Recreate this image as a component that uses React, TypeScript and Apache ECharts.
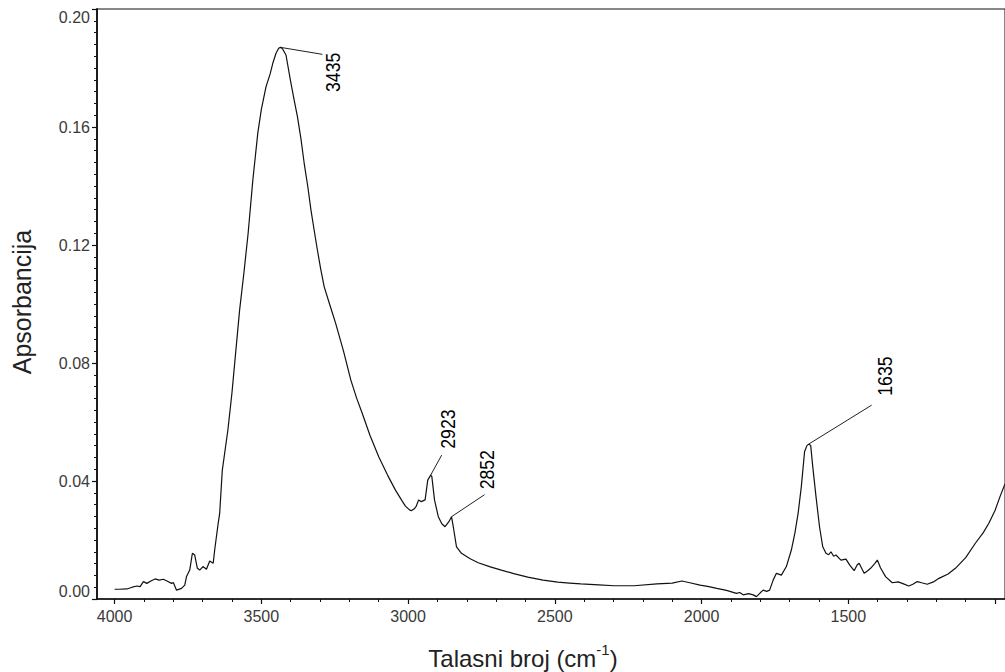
import React, { useEffect, useRef } from 'react';
import * as echarts from 'echarts';

// Spectrum (wavenumber cm-1, absorbance)
const wavenumbers = [
  4000, 3985, 3958, 3940, 3924, 3913, 3902, 3890, 3875, 3862, 3848, 3834, 3820, 3806, 3800, 3789,
  3772, 3761, 3755, 3744, 3735, 3727, 3718, 3710, 3699, 3687, 3676, 3664, 3659, 3647, 3642, 3633,
  3625, 3614, 3600, 3588, 3574, 3560, 3545, 3529, 3512, 3500, 3484, 3470, 3461, 3450, 3441, 3435,
  3428, 3416, 3401, 3388, 3377, 3365, 3354, 3342, 3331, 3320, 3309, 3298, 3286, 3266, 3247, 3220,
  3195, 3175, 3156, 3130, 3100, 3070, 3043, 3020, 3009, 2995, 2989, 2980, 2973, 2964, 2955, 2942,
  2933, 2923, 2919, 2910, 2897, 2885, 2874, 2861, 2852, 2846, 2835, 2818, 2790, 2761, 2720, 2682,
  2640, 2592, 2540, 2490, 2450, 2411, 2350, 2298, 2230, 2152, 2100, 2067, 2040, 2005, 1975, 1948,
  1915, 1881, 1870, 1858, 1840, 1824, 1813, 1800, 1790, 1778, 1768, 1756, 1745, 1728, 1711, 1694,
  1682, 1671, 1660, 1649, 1641, 1635, 1628, 1621, 1610, 1598, 1587, 1576, 1567, 1559, 1550, 1542,
  1525, 1508, 1495, 1480, 1470, 1463, 1446, 1435, 1424, 1410, 1401, 1390, 1373, 1350, 1330, 1316,
  1294, 1280, 1265, 1250, 1231, 1210, 1191, 1160, 1135, 1100, 1067, 1040, 1021, 1000, 983, 966,
];
const absorbance = [
  0.0033, 0.0033, 0.0034, 0.0040, 0.0044, 0.0042, 0.0059, 0.0053, 0.0062, 0.0068, 0.0064, 0.0067, 0.0060, 0.0053, 0.0056, 0.0030,
  0.0036, 0.0047, 0.0076, 0.0098, 0.0155, 0.0149, 0.0104, 0.0098, 0.0110, 0.0101, 0.0129, 0.0121, 0.0166, 0.0257, 0.0290, 0.0437,
  0.0494, 0.0573, 0.0700, 0.0830, 0.0980, 0.1100, 0.1240, 0.1420, 0.1580, 0.1660, 0.1737, 0.1780, 0.1816, 0.1850, 0.1867, 0.1870,
  0.1865, 0.1844, 0.1759, 0.1690, 0.1635, 0.1560, 0.1477, 0.1400, 0.1319, 0.1250, 0.1183, 0.1120, 0.1059, 0.0995, 0.0935, 0.0840,
  0.0742, 0.0680, 0.0629, 0.0555, 0.0482, 0.0420, 0.0369, 0.0332, 0.0315, 0.0302, 0.0299, 0.0305, 0.0313, 0.0336, 0.0330, 0.0336,
  0.0403, 0.0420, 0.0415, 0.0336, 0.0279, 0.0255, 0.0245, 0.0262, 0.0279, 0.0245, 0.0177, 0.0155, 0.0137, 0.0123, 0.0109, 0.0098,
  0.0086, 0.0074, 0.0064, 0.0057, 0.0054, 0.0051, 0.0048, 0.0045, 0.0045, 0.0051, 0.0054, 0.0061, 0.0055, 0.0047, 0.0042, 0.0036,
  0.0029, 0.0019, 0.0022, 0.0014, 0.0018, 0.0014, 0.0008, 0.0021, 0.0030, 0.0026, 0.0030, 0.0064, 0.0087, 0.0081, 0.0110, 0.0166,
  0.0223, 0.0290, 0.0381, 0.0499, 0.0520, 0.0525, 0.0520, 0.0448, 0.0347, 0.0245, 0.0177, 0.0155, 0.0150, 0.0160, 0.0145, 0.0149,
  0.0132, 0.0135, 0.0115, 0.0096, 0.0115, 0.0121, 0.0087, 0.0095, 0.0104, 0.0120, 0.0132, 0.0105, 0.0076, 0.0055, 0.0058, 0.0053,
  0.0044, 0.0050, 0.0059, 0.0055, 0.0050, 0.0058, 0.0070, 0.0085, 0.0104, 0.0140, 0.0189, 0.0225, 0.0257, 0.0300, 0.0347, 0.0390,
];

const xMajorTicks = [4000, 3500, 3000, 2500, 2000, 1500, 1000];
const xTickLabels = [4000, 3500, 3000, 2500, 2000, 1500];
const xMinorTicks = [4000, 3900, 3800, 3700, 3600, 3500, 3400, 3300, 3200, 3100, 3000, 2900, 2800, 2700, 2600, 2500, 2400, 2300, 2200, 2100, 2000, 1900, 1800, 1700, 1600, 1500, 1400, 1300, 1200, 1100, 1000];
const yMajorTicks = [0, 0.04, 0.08, 0.12, 0.16, 0.2];
const yMinorTicks = [0, 0.004, 0.008, 0.012, 0.016, 0.02, 0.024, 0.028, 0.032, 0.036, 0.04, 0.044, 0.048, 0.052, 0.056, 0.06, 0.064, 0.068, 0.072, 0.076, 0.08, 0.084, 0.088, 0.092, 0.096, 0.1, 0.104, 0.108, 0.112, 0.116, 0.12, 0.124, 0.128, 0.132, 0.136, 0.14, 0.144, 0.148, 0.152, 0.156, 0.16, 0.164, 0.168, 0.172, 0.176, 0.18, 0.184, 0.188, 0.192, 0.196, 0.2];
const peakLabels = [3435, 2923, 2852, 1635];

const xAxisTitle = 'Talasni broj (cm';
const xAxisTitleSup = '-1';
const yAxisTitle = 'Apsorbancija';

// Pixel offsets of leader-line end and label centre relative to each peak
const annotationLayout: Record<number, { lx: number; ly: number; tx: number; ty: number }> = {
  3435: { lx: 42, ly: 7, tx: 53, ty: 25 },
  2923: { lx: 11, ly: -20, tx: 17, ty: -46 },
  2852: { lx: 33, ly: -22, tx: 36, ty: -47 },
  1635: { lx: 63, ly: -39, tx: 76, ty: -68 },
};

const FONT = "'Liberation Sans', Arial, Helvetica, sans-serif";

export default function App() {
  const ref = useRef<HTMLDivElement>(null);

  useEffect(() => {
    if (!ref.current) return;
    const chart = echarts.init(ref.current, undefined, { renderer: 'svg' });
    const data = wavenumbers.map((w, i) => [w, absorbance[i]]);
    const xMin = 966;
    const xMax = 4060;

    chart.setOption({
      animation: false,
      backgroundColor: '#fff',
      grid: {
        left: 97,
        top: 9,
        right: -5,
        bottom: 73,
        show: true,
        borderColor: '#111',
        borderWidth: 1,
        backgroundColor: 'transparent',
      },
      xAxis: [
        {
          type: 'value',
          inverse: true,
          min: xMin,
          max: xMax,
          position: 'bottom',
          axisLine: { show: true, onZero: false, lineStyle: { color: '#111', width: 1.5 } },
          axisTick: { show: true, customValues: xMajorTicks, length: 5, lineStyle: { color: '#111', width: 1.2 } },
          axisLabel: {
            show: true,
            customValues: xTickLabels,
            fontSize: 16,
            fontFamily: FONT,
            color: '#3a3a3a',
            margin: 9,
            formatter: (v: number) => String(v),
          },
          splitLine: { show: false },
        },
        {
          type: 'value',
          inverse: true,
          min: xMin,
          max: xMax,
          position: 'bottom',
          axisLine: { show: false, onZero: false },
          axisTick: { show: true, customValues: xMinorTicks, length: 3, lineStyle: { color: '#111', width: 1 } },
          axisLabel: { show: false },
          splitLine: { show: false },
        },
      ],
      yAxis: [
        {
          type: 'value',
          min: 0,
          max: 0.2,
          position: 'left',
          axisLine: { show: true, onZero: false, lineStyle: { color: '#111', width: 1.8 } },
          axisTick: { show: true, customValues: yMajorTicks, length: 5, lineStyle: { color: '#111', width: 1.2 } },
          axisLabel: {
            show: true,
            customValues: yMajorTicks,
            fontSize: 16,
            fontFamily: FONT,
            color: '#3a3a3a',
            margin: 7,
            verticalAlignMinLabel: 'bottom',
            verticalAlignMaxLabel: 'top',
            formatter: (v: number) => v.toFixed(2),
          },
          splitLine: { show: false },
        },
        {
          type: 'value',
          min: 0,
          max: 0.2,
          position: 'left',
          axisLine: { show: false, onZero: false },
          axisTick: { show: true, customValues: yMinorTicks, length: 3, lineStyle: { color: '#111', width: 1 } },
          axisLabel: { show: false },
          splitLine: { show: false },
        },
      ],
      series: [
        {
          type: 'line',
          xAxisIndex: 0,
          yAxisIndex: 0,
          data,
          showSymbol: false,
          symbol: 'none',
          smooth: false,
          clip: true,
          lineStyle: { color: '#111', width: 1.2 },
          silent: true,
        },
      ],
    });

    const nearest = (wn: number) => {
      let best = 0;
      for (let i = 1; i < wavenumbers.length; i++) {
        if (Math.abs(wavenumbers[i] - wn) < Math.abs(wavenumbers[best] - wn)) best = i;
      }
      return absorbance[best];
    };

    const graphics: any[] = [];
    peakLabels.forEach((wn) => {
      const p = chart.convertToPixel({ xAxisIndex: 0, yAxisIndex: 0 }, [wn, nearest(wn)]) as number[];
      const L = annotationLayout[wn];
      graphics.push({
        type: 'line',
        shape: { x1: p[0], y1: p[1], x2: p[0] + L.lx, y2: p[1] + L.ly },
        style: { stroke: '#222', lineWidth: 1 },
        silent: true,
      });
      graphics.push({
        type: 'text',
        x: p[0] + L.tx,
        y: p[1] + L.ty,
        rotation: Math.PI / 2,
        scaleX: 0.88,
        style: {
          text: String(wn),
          fontSize: 20,
          fontFamily: FONT,
          fill: '#000',
          align: 'center',
          verticalAlign: 'middle',
        },
        silent: true,
      });
    });

    graphics.push({
      type: 'text',
      x: 523,
      y: 656,
      style: {
        text: `{a|${xAxisTitle}}{s|${xAxisTitleSup}}{a|)}`,
        align: 'center',
        verticalAlign: 'middle',
        rich: {
          a: { fontSize: 24, fontFamily: FONT, fill: '#222', lineHeight: 28, verticalAlign: 'bottom' },
          s: { fontSize: 15, fontFamily: FONT, fill: '#222', lineHeight: 16, verticalAlign: 'top' },
        },
      },
      silent: true,
    });
    graphics.push({
      type: 'text',
      x: 22,
      y: 302,
      rotation: Math.PI / 2,
      style: {
        text: yAxisTitle,
        fontSize: 25,
        fontFamily: FONT,
        fill: '#222',
        align: 'center',
        verticalAlign: 'middle',
      },
      silent: true,
    });

    chart.setOption({ graphic: graphics });

    return () => {
      chart.dispose();
    };
  }, []);

  return (
    <div
      ref={ref}
      style={{ position: 'fixed', left: 0, top: 0, width: 1005, height: 672, background: '#fff' }}
    />
  );
}
